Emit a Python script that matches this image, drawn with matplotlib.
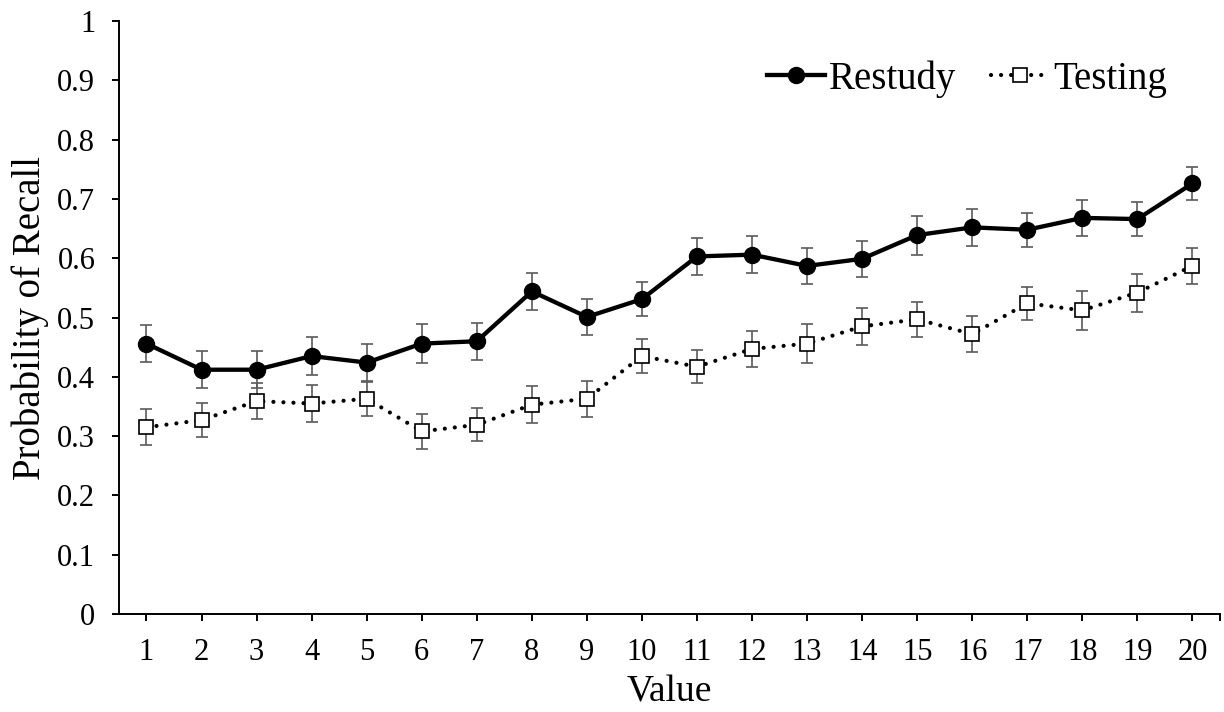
"""Recall probability across study positions for restudy and testing groups."""

import matplotlib.pyplot as plt
from matplotlib.lines import Line2D

plt.rcParams["font.family"] = ["Liberation Serif", "DejaVu Serif"]

values = list(range(1, 21))
restudy = [0.456, 0.412, 0.412, 0.435, 0.424, 0.456, 0.460, 0.544, 0.501, 0.531,
           0.603, 0.606, 0.587, 0.599, 0.639, 0.652, 0.648, 0.668, 0.666, 0.726]
restudy_err = [0.031, 0.031, 0.031, 0.032, 0.031, 0.033, 0.031, 0.031, 0.030, 0.029,
               0.031, 0.031, 0.031, 0.030, 0.033, 0.031, 0.029, 0.030, 0.028, 0.028]
testing = [0.315, 0.327, 0.359, 0.355, 0.363, 0.308, 0.319, 0.353, 0.363, 0.435,
           0.417, 0.447, 0.456, 0.485, 0.497, 0.472, 0.524, 0.512, 0.542, 0.587]
testing_err = [0.030, 0.029, 0.030, 0.031, 0.029, 0.029, 0.028, 0.031, 0.030, 0.029,
               0.028, 0.031, 0.033, 0.031, 0.030, 0.030, 0.028, 0.033, 0.032, 0.031]
y_ticks = [0, 0.1, 0.2, 0.3, 0.4, 0.5, 0.6, 0.7, 0.8, 0.9, 1]
y_tick_labels = ["0", "0.1", "0.2", "0.3", "0.4", "0.5", "0.6", "0.7", "0.8", "0.9", "1"]

ERR_COLOR = "#5a5a5a"
DOTTED = (0, (0.01, 2.4))


def main():
    fig = plt.figure(figsize=(12.24, 7.12), dpi=100)
    ax = fig.add_axes([0.0972, 0.1376, 0.8995, 0.8329])

    # error bars sit underneath the lines and markers
    ax.errorbar(values, restudy, yerr=restudy_err, fmt="none", ecolor=ERR_COLOR,
                elinewidth=1.2, capsize=4.5, capthick=1.2, zorder=1)
    ax.errorbar(values, testing, yerr=testing_err, fmt="none", ecolor=ERR_COLOR,
                elinewidth=1.2, capsize=4.5, capthick=1.2, zorder=1)

    ax.plot(values, restudy, color="black", linewidth=3.1, marker="o",
            markersize=11.5, markerfacecolor="black", markeredgecolor="black",
            zorder=3)
    ax.plot(values, testing, color="black", linewidth=3.0, linestyle=DOTTED,
            dash_capstyle="round", zorder=2)
    ax.plot(values, testing, linestyle="none", marker="s", markersize=10.5,
            markerfacecolor="white", markeredgecolor="black",
            markeredgewidth=1.2, zorder=3)

    ax.set_xlim(0.5, 20.5)
    ax.set_ylim(0, 1)
    ax.set_xticks(values)
    ax.set_xticklabels([str(v) for v in values])
    ax.set_xticks([20.5], minor=True)
    ax.set_yticks(y_ticks)
    ax.set_yticklabels(y_tick_labels)

    for side in ("top", "right"):
        ax.spines[side].set_visible(False)
    for side in ("left", "bottom"):
        ax.spines[side].set_linewidth(1.4)
    ax.tick_params(axis="both", which="both", direction="out", length=5,
                   width=1.4, labelsize=22)
    ax.tick_params(axis="x", pad=12)
    ax.tick_params(axis="y", pad=12)

    ax.set_xlabel("Value", fontsize=27, labelpad=6)
    ax.set_ylabel("Probability of Recall", fontsize=28, labelpad=6)

    handles = [
        Line2D([], [], color="black", linewidth=3.1, marker="o", markersize=11.5),
        Line2D([], [], color="black", linewidth=3.0, linestyle=DOTTED,
               dash_capstyle="round", marker="s", markersize=10.5,
               markerfacecolor="white", markeredgecolor="black",
               markeredgewidth=1.2),
    ]
    ax.legend(handles, ["Restudy", "Testing"], loc="upper right",
              bbox_to_anchor=(0.984, 0.993), ncol=2, frameon=False,
              fontsize=28, handlelength=1.5, handletextpad=0.1,
              columnspacing=0.9)

    fig.savefig("out.png", dpi=100)


if __name__ == "__main__":
    main()
